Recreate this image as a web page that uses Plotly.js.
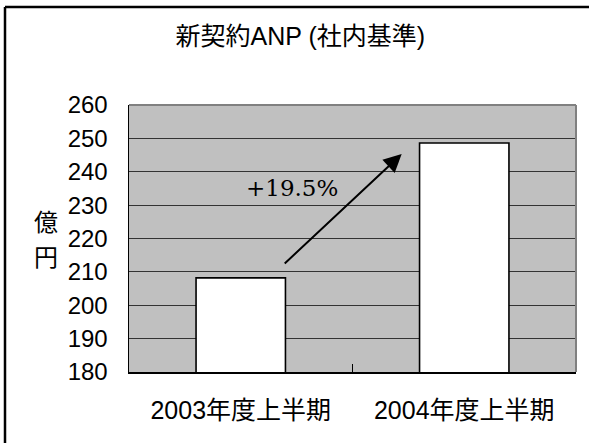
<!DOCTYPE html>
<html>
<head>
<meta charset="utf-8">
<script src="https://cdn.plot.ly/plotly-3.0.1.min.js"></script>
<style>html,body{margin:0;padding:0;background:#fff;}#chart{width:589px;height:443px;}</style>
</head>
<body>
<div id="chart"></div>
<script>
var categories = ["2003年度上半期", "2004年度上半期"];
var values = [208.2, 248.6];
var yTickValues = [180, 190, 200, 210, 220, 230, 240, 250, 260];
var chartTitle = "新契約ANP (社内基準)";
var unitLabel = ["億", "円"];
var growthLabel = "+19.5%";

var sans = "Liberation Sans, Arial, Noto Sans CJK JP, sans-serif";

var trace = {
  type: "bar",
  x: categories,
  y: values,
  marker: {color: "#ffffff", line: {color: "#000000", width: 1.6}},
  width: 0.4,
  hoverinfo: "skip"
};

var layout = {
  width: 589, height: 443,
  margin: {l: 129, r: 12.5, t: 105, b: 71, pad: 0},
  paper_bgcolor: "#ffffff",
  plot_bgcolor: "#c0c0c0",
  showlegend: false,
  title: {text: chartTitle, font: {family: sans, size: 25, color: "#000"}, x: 0.51, xanchor: "center", y: 0.918, yanchor: "middle"},
  xaxis: {
    type: "category",
    range: [-0.5, 1.5],
    showline: true, linecolor: "#000", linewidth: 1.5,
    ticks: "inside", tickson: "boundaries", ticklen: 8, tickcolor: "#000", tickwidth: 1,
    showgrid: false,
    tickfont: {family: sans, size: 25, color: "#000"},
    ticklabelstandoff: 15,
    fixedrange: true
  },
  yaxis: {
    range: [180, 260],
    tickvals: yTickValues,
    ticktext: yTickValues.map(String),
    showline: true, linecolor: "#000", linewidth: 1.5,
    ticks: "",
    showgrid: true, gridcolor: "#333333", gridwidth: 1,
    zeroline: false,
    tickfont: {family: sans, size: 24, color: "#000"},
    ticklabelstandoff: 15,
    fixedrange: true
  },
  shapes: [
    {type: "line", xref: "paper", yref: "paper", x0: 0, x1: 1, y0: 1, y1: 1, line: {color: "#808080", width: 2}, layer: "above"},
    {type: "line", xref: "paper", yref: "paper", x0: 1, x1: 1, y0: 0, y1: 1, line: {color: "#808080", width: 2}, layer: "above"},
    {type: "line", xref: "paper", yref: "paper", x0: -124/447, x1: -124/447, y0: -0.3, y1: (443-7-71)/267, line: {color: "#000", width: 2.5}},
    {type: "line", xref: "paper", yref: "paper", x0: -124/447, x1: 1.1, y0: (443-7-71)/267, y1: (443-7-71)/267, line: {color: "#000", width: 2.5}}
  ],
  annotations: [
    {xref: "paper", yref: "paper", x: -83/447, y: (372-222)/267, text: unitLabel[0], showarrow: false, font: {family: sans, size: 24, color: "#000"}, xanchor: "center", yanchor: "middle"},
    {xref: "paper", yref: "paper", x: -83/447, y: (372-257)/267, text: unitLabel[1], showarrow: false, font: {family: sans, size: 24, color: "#000"}, xanchor: "center", yanchor: "middle"},
    {xref: "x", yref: "y", x: 0.228, y: 235.0, text: growthLabel, showarrow: false, font: {family: "DejaVu Serif, serif", size: 23, color: "#000"}, xanchor: "center", yanchor: "middle"},
    {xref: "x", yref: "y", x: 0.72, y: 245.3, axref: "x", ayref: "y", ax: 0.19, ay: 212.1, text: "", showarrow: true, arrowhead: 2, arrowsize: 1.8, arrowwidth: 2, arrowcolor: "#000", standoff: 0}
  ]
};

Plotly.newPlot("chart", [trace], layout, {displayModeBar: false, staticPlot: true});
</script>
</body>
</html>
